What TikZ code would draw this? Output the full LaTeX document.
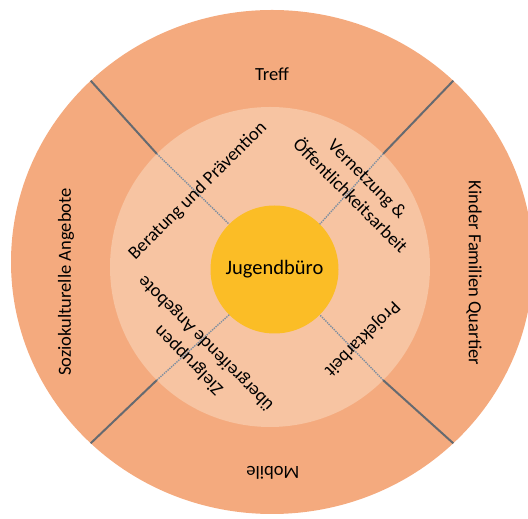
\documentclass[tikz,border=0pt]{standalone}
\usepackage{fontspec}
\setmainfont{Carlito}
\usepackage{xcolor}
\usetikzlibrary{shapes.geometric}
\definecolor{ringorange}{HTML}{F4AA7E}
\definecolor{innerpeach}{HTML}{F7C4A2}
\definecolor{hubyellow}{HTML}{FBBD26}
\definecolor{dividergray}{HTML}{666A70}
\definecolor{dotgray}{HTML}{7F8FA0}

\begin{document}
\begin{tikzpicture}[x=1pt,y=1pt,
  lbl/.style={font=\fontsize{18.5}{24}\selectfont,align=center,inner sep=0pt},
  divider/.style={draw=dividergray,line width=2pt},
  dotline/.style={draw=dotgray,line width=1.4pt,densely dotted}]
\useasboundingbox (0,0) rectangle (528,519);
\clip (0,0) rectangle (528,519);
\node[ellipse,fill=ringorange,inner sep=0pt,outer sep=0pt,minimum width=522pt,minimum height=504pt] (outer) at (272,257) {};
\node[circle,fill=innerpeach,inner sep=0pt,outer sep=0pt,minimum size=320pt] (inner) at (270,252) {};
\draw[divider] (outer.135)--(inner.135);
\draw[divider] (outer.45)--(inner.45);
\draw[divider] (outer.-45)--(inner.-45);
\draw[divider] (outer.-135)--(inner.-135);
\node[circle,fill=hubyellow,inner sep=0pt,outer sep=0pt,minimum size=128pt,font=\fontsize{20.5}{24}\selectfont] (hub) at (274.5,249.5) {Jugendbüro};
\draw[dotline] (inner.135)--(hub.135);
\draw[dotline] (inner.45)--(hub.45);
\draw[dotline] (inner.-45)--(hub.-45);
\draw[dotline] (inner.-135)--(hub.-135);
\node[lbl] (treff) at (272,445){Treff};
\node[lbl,rotate=90] (sozio) at (66,237){Soziokulturelle Angebote};
\node[lbl,rotate=-90] (kinder) at (474,246){Kinder Familien Quartier};
\node[lbl,rotate=180] (mobile) at (273,46){Mobile};
\node[lbl,rotate=45] (beratung) at (198,328){Beratung und Prävention};
\node[lbl,rotate=-45] (vernetzung) at (359,332){Vernetzung \&\\Öffentlichkeitsarbeit};
\node[lbl,rotate=225] (projekt) at (362,180){Projektarbeit};
\node[lbl,rotate=135] (zielgruppen) at (197.5,167.5){Zielgruppen\\übergreifende Angebote};
\end{tikzpicture}
\end{document}
